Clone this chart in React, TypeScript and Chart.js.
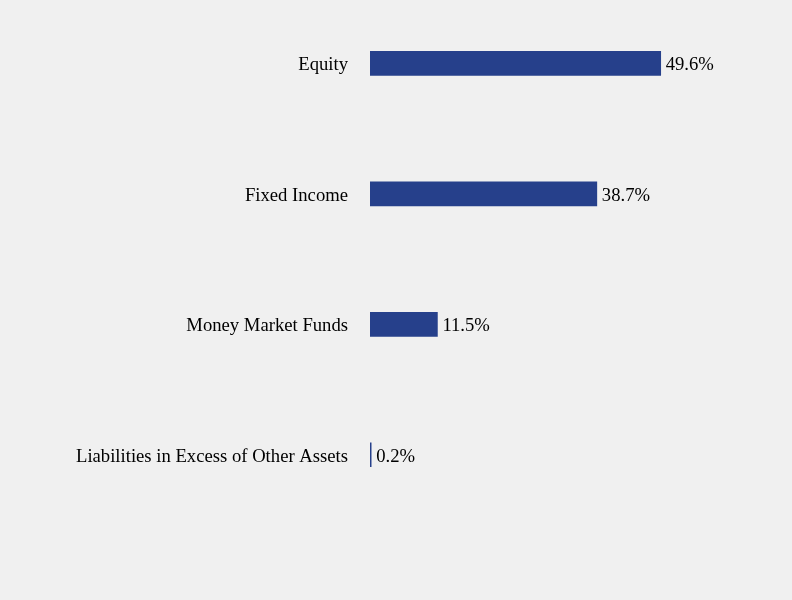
import React, { useEffect, useRef } from "react";
import { Chart, registerables } from "chart.js";

Chart.register(...registerables);

const categories = ["Equity", "Fixed Income", "Money Market Funds", "Liabilities in Excess of Other Assets"];
const values = [49.6, 38.7, 11.5, 0.2];
const valueLabels = ["49.6%", "38.7%", "11.5%", "0.2%"];

const FONT = "'Liberation Serif', 'Times New Roman', serif";

const valueLabelPlugin = {
  id: "valueLabels",
  afterDatasetsDraw(chart: any) {
    const ctx = chart.ctx;
    const meta = chart.getDatasetMeta(0);
    ctx.save();
    ctx.font = `18.67px ${FONT}`;
    ctx.fillStyle = "#000000";
    ctx.textAlign = "left";
    ctx.textBaseline = "middle";
    meta.data.forEach((bar: any, i: number) => {
      ctx.fillText(valueLabels[i], bar.x + 5, bar.y + 2);
    });
    ctx.restore();
  },
};

export default function App() {
  const ref = useRef<HTMLCanvasElement | null>(null);
  useEffect(() => {
    if (!ref.current) return;
    const chart = new Chart(ref.current, {
      type: "bar",
      data: {
        labels: categories,
        datasets: [
          {
            data: values,
            backgroundColor: "#26408B",
            borderWidth: 0,
            barThickness: 24,
          },
        ],
      },
      options: {
        indexAxis: "y",
        responsive: false,
        animation: false,
        layout: { padding: { top: 0, bottom: 79, left: 0, right: 0 } },
        plugins: { legend: { display: false }, tooltip: { enabled: false } },
        scales: {
          x: { display: false, min: 0, max: 72 },
          y: {
            grid: { display: false, drawTicks: false },
            border: { display: false },
            ticks: {
              color: "#000000",
              padding: 22,
              labelOffset: 2,
              font: { family: FONT, size: 18.67 },
            },
            afterFit(scale: any) {
              scale.width = 370;
            },
          },
        },
      },
      plugins: [valueLabelPlugin],
    });
    return () => chart.destroy();
  }, []);
  return (
    <div style={{ position: "fixed", left: 0, top: 0, width: 792, height: 600, background: "#f0f0f0", overflow: "hidden" }}>
      <canvas ref={ref} width={792} height={634} style={{ display: "block", position: "absolute", left: 0, top: -35 }} />
    </div>
  );
}
